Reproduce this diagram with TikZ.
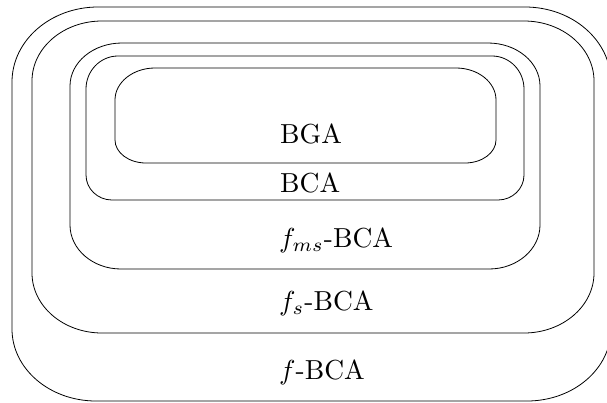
\documentclass[tikz,border=0pt]{standalone}
\usepackage{graphicx}
\newcommand\rrect[8]{%
 \draw[boxline] (#1+#5,#2) -- (#3-#5,#2)
   .. controls (#3-#5+0.5523*#5,#2) and (#3,#2+#6-0.5523*#6) .. (#3,#2+#6)
   -- (#3,#4-#8)
   .. controls (#3,#4-#8+0.5523*#8) and (#3-#7+0.5523*#7,#4) .. (#3-#7,#4)
   -- (#1+#7,#4)
   .. controls (#1+#7-0.5523*#7,#4) and (#1,#4-#8+0.5523*#8) .. (#1,#4-#8)
   -- (#1,#2+#6)
   .. controls (#1,#2+#6-0.5523*#6) and (#1+#5-0.5523*#5,#2) .. cycle;}
\newcommand\bigtxt[1]{\scalebox{2.75}{#1}}
\begin{document}
\begin{tikzpicture}[x=1pt,y=-1pt,
  boxline/.style={draw=black,line width=0.8pt},
  lbl/.style={anchor=base west,inner sep=0pt}]
\useasboundingbox (0,0) rectangle (607,402);
\clip (0,0) rectangle (607,402);
\rrect{12}{7}{611}{401}{86}{75}{84}{72}
\rrect{32}{21}{594}{333}{70}{60}{70}{60}
\rrect{70}{43}{540}{269}{52}{43}{51}{44}
\rrect{86}{56}{524}{200}{32}{33}{26}{25}
\rrect{115}{68}{496}{163}{40}{32}{31}{23}
\node[lbl] (bga) at (280,143) {\bigtxt{BGA}};
\node[lbl] (bca) at (280,192) {\bigtxt{BCA}};
\node[lbl] (fms) at (279,247) {\bigtxt{$f_{ms}$-BCA}};
\node[lbl] (fs) at (279,310) {\bigtxt{$f_{s}$-BCA}};
\node[lbl] (f) at (279,379) {\bigtxt{$f$-BCA}};
\end{tikzpicture}
\end{document}
